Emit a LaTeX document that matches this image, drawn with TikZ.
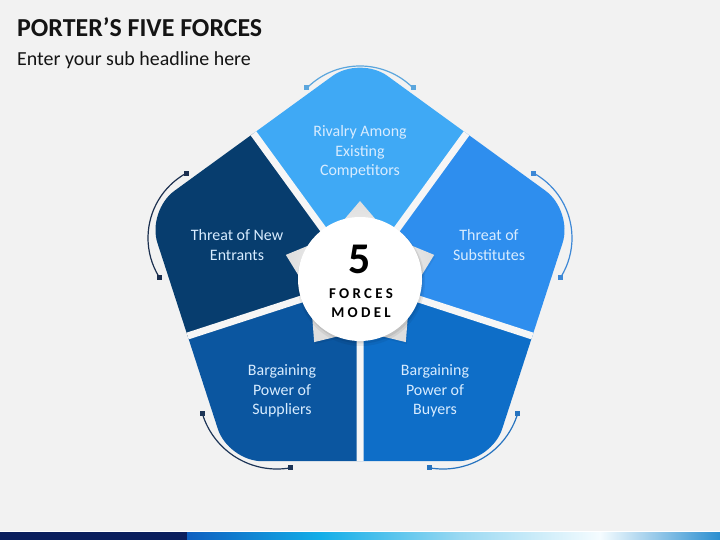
\documentclass[tikz,border=0pt]{standalone}
\usepackage{fontspec}
\setmainfont{Carlito}
\newfontfamily\spacedfont[LetterSpace=22]{Carlito}
\usetikzlibrary{calc}
\definecolor{bg}{HTML}{F2F2F2}
\definecolor{gap}{HTML}{F6F6F6}
\definecolor{ctop}{HTML}{3FA9F5}
\definecolor{cright}{HTML}{2E8EEE}
\definecolor{cbr}{HTML}{0E6EC8}
\definecolor{cbl}{HTML}{0B56A0}
\definecolor{cleft}{HTML}{073D6E}
\definecolor{ptext}{HTML}{D8ECFF}
\definecolor{atop}{HTML}{5BA6DD}
\definecolor{aleft}{HTML}{1B2F4F}
\definecolor{aright}{HTML}{3D88D6}
\definecolor{abl}{HTML}{1D3557}
\definecolor{abr}{HTML}{2673BF}
\definecolor{navy}{HTML}{0B1F5E}
\definecolor{g1}{HTML}{0E5FC0}
\definecolor{g2}{HTML}{12AEE8}
\definecolor{g3}{HTML}{9AD9F2}
\definecolor{g4}{HTML}{F5FCFF}
\definecolor{g5}{HTML}{2A8ED0}
\tikzset{
  piecetext/.style={text=ptext, align=center, font=\fontsize{16}{19.5}\selectfont, inner sep=0},
  arcline/.style={line width=1.2bp},
  endsq/.style={minimum size=5bp, inner sep=0, outer sep=0, fill, draw=none},
  gapline/.style={gap, line width=7bp},
  piece/.style={rounded corners=34pt},
}
\begin{document}
\begin{tikzpicture}[x=1bp,y=-1bp]
\useasboundingbox (0,0) rectangle (720,540);
\fill[bg] (0,0) rectangle (720,540);

% titles
\node[anchor=base west, inner sep=0, text=black!92, font=\fontsize{26}{26}\selectfont\bfseries] (title) at (17,37) {PORTER’S FIVE FORCES};
\node[anchor=base west, inner sep=0, text=black!92, font=\fontsize{20}{20}\selectfont] (sub) at (17,66) {Enter your sub headline here};

% pentagon geometry
\coordinate (P) at (360,280);
\coordinate (Vt) at ($(P)+(-90:224)$);
\coordinate (Vr) at ($(P)+(-18:224)$);
\coordinate (Vbr) at ($(P)+(54:224)$);
\coordinate (Vbl) at ($(P)+(126:224)$);
\coordinate (Vl) at ($(P)+(198:224)$);
\coordinate (Mlt) at ($(Vl)!0.5!(Vt)$);
\coordinate (Mtr) at ($(Vt)!0.5!(Vr)$);
\coordinate (Mrbr) at ($(Vr)!0.5!(Vbr)$);
\coordinate (Mb) at ($(Vbr)!0.5!(Vbl)$);
\coordinate (Mbll) at ($(Vbl)!0.5!(Vl)$);
\def\pent{(Mlt) -- (Vt) -- (Vr) -- (Vbr) -- (Vbl) -- (Vl) -- cycle}

\begin{scope}
\clip (P) -- ($(P)!2!(Mlt)$) -- ($(P)!2!(Vt)$) -- ($(P)!2!(Mtr)$) -- cycle;
\fill[ctop, piece] \pent;
\end{scope}
\begin{scope}
\clip (P) -- ($(P)!2!(Mtr)$) -- ($(P)!2!(Vr)$) -- ($(P)!2!(Mrbr)$) -- cycle;
\fill[cright, piece] \pent;
\end{scope}
\begin{scope}
\clip (P) -- ($(P)!2!(Mrbr)$) -- ($(P)!2!(Vbr)$) -- ($(P)!2!(Mb)$) -- cycle;
\fill[cbr, piece] \pent;
\end{scope}
\begin{scope}
\clip (P) -- ($(P)!2!(Mb)$) -- ($(P)!2!(Vbl)$) -- ($(P)!2!(Mbll)$) -- cycle;
\fill[cbl, piece] \pent;
\end{scope}
\begin{scope}
\clip (P) -- ($(P)!2!(Mbll)$) -- ($(P)!2!(Vl)$) -- ($(P)!2!(Mlt)$) -- cycle;
\fill[cleft, piece] \pent;
\end{scope}

\begin{scope}
\clip[piece] \pent;
\foreach \m in {Mlt,Mtr,Mrbr,Mb,Mbll}
  \draw[gapline] (P) -- ($(P)!1.1!(\m)$);
\end{scope}

% piece texts
\node[piecetext] (rivalry) at (360,152) {Rivalry Among\\Existing\\Competitors};
\node[piecetext] (entrants) at (237,245) {Threat of New\\Entrants};
\node[piecetext] (subst) at (489,245) {Threat of\\Substitutes};
\node[piecetext] (suppliers) at (282,391) {Bargaining\\Power of\\Suppliers};
\node[piecetext] (buyers) at (435,391) {Bargaining\\Power of\\Buyers};

% star
\def\starpath{(-90:78) -- (-54:52) -- (-18:78) -- (18:52) -- (54:78) -- (90:52) -- (126:78) -- (162:52) -- (198:78) -- (234:52) -- cycle}
\begin{scope}[shift={(361,281)}]
\fill[black, opacity=0.06] \starpath;
\end{scope}
\begin{scope}[shift={(360,279)}]
\shade[inner color=white, outer color=black!13] \starpath;
\end{scope}

% circle
\fill[black, opacity=0.06] (361,282) circle[radius=64];
\fill[black, opacity=0.08] (361,281) circle[radius=62.5];
\fill[white] (360,279) circle[radius=62];
\node[inner sep=0, font=\fontsize{44}{44}\selectfont\bfseries] (five) at (360,259) {5};
\node[inner sep=0, font=\spacedfont\fontsize{15}{15}\selectfont\bfseries] (forces) at (361,294) {FORCES};
\node[inner sep=0, font=\spacedfont\fontsize{15}{15}\selectfont\bfseries] (model) at (361,313) {MODEL};

% arcs
\draw[arcline, atop] ($(360,141)+(-135:75)$) coordinate (a1s) arc[start angle=-135, end angle=-45, radius=75] coordinate (a1e);
\node[endsq, atop] at (a1s) {};
\node[endsq, atop] at (a1e) {};
\draw[arcline, aleft] ($(222,238)+(241:74)$) coordinate (a2s) arc[start angle=241, end angle=148, radius=74] coordinate (a2e);
\node[endsq, aleft] at (a2s) {};
\node[endsq, aleft] at (a2e) {};
\draw[arcline, aright] ($(498,238)+(-61:74)$) coordinate (a3s) arc[start angle=-61, end angle=32, radius=74] coordinate (a3e);
\node[endsq, aright] at (a3s) {};
\node[endsq, aright] at (a3e) {};
\draw[arcline, abl] ($(277,391)+(163:78)$) coordinate (a4s) arc[start angle=163, end angle=80, radius=78] coordinate (a4e);
\node[endsq, abl] at (a4s) {};
\node[endsq, abl] at (a4e) {};
\draw[arcline, abr] ($(443,391)+(17:78)$) coordinate (a5s) arc[start angle=17, end angle=100, radius=78] coordinate (a5e);
\node[endsq, abr] at (a5s) {};
\node[endsq, abr] at (a5e) {};

% bottom bar
\fill[white] (0,530.5) rectangle (720,532.5);
\fill[navy] (0,532) rectangle (187,540);
\shade[left color=g1, right color=g2] (187,532) rectangle (320.5,540);
\shade[left color=g2, right color=g3] (320,532) rectangle (460.5,540);
\shade[left color=g3, right color=g4] (460,532) rectangle (600.5,540);
\shade[left color=g4, right color=g5] (600,532) rectangle (720,540);
\end{tikzpicture}
\end{document}
